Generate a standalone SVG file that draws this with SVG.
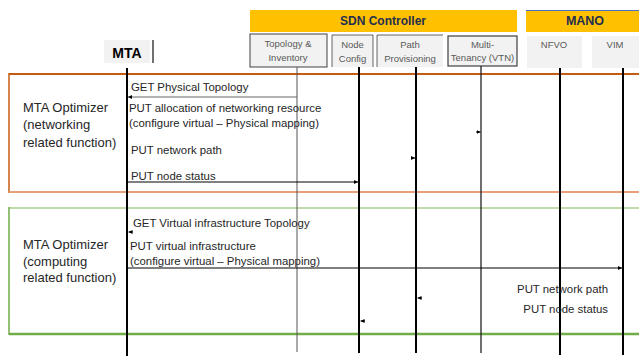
<svg xmlns="http://www.w3.org/2000/svg" width="639" height="356" viewBox="0 0 639 356">
<style>
.hdr{fill:#F2F2F2}
.ht{font-family:"Liberation Sans",Arial,sans-serif;font-size:9.5px;fill:#595959;text-anchor:middle}
.bar{fill:#FFC000}
.bt{font-family:"Liberation Sans",Arial,sans-serif;font-weight:bold;fill:#1F2F4F;text-anchor:middle}
.life{stroke:#000;stroke-width:2;fill:none}
.msg{font-family:"Liberation Sans",Arial,sans-serif;font-size:11.4px;fill:#262626}
.side{font-family:"Liberation Sans",Arial,sans-serif;font-size:13px;fill:#262626}
.arr{stroke:#000;stroke-width:1;fill:none;marker-end:url(#ah)}
</style>
<defs>
<marker id="ah" viewBox="0 0 6 6" refX="6" refY="3" markerWidth="4" markerHeight="4" markerUnits="userSpaceOnUse" orient="auto">
<path d="M0,0 L6,3 L0,6 Z" fill="#000"/>
</marker>
</defs>
<rect width="639" height="356" fill="#fff"/>

<g id="frame-networking">
<line x1="9" y1="74" x2="639" y2="74" stroke="#C55A11" stroke-width="2"/>
<line x1="9" y1="73" x2="9" y2="193" stroke="#C55A11" stroke-width="1.5"/>
<line x1="9" y1="192" x2="639" y2="192" stroke="#E8A07A" stroke-width="2"/>
<text class="side" x="23" y="112">MTA Optimizer</text>
<text class="side" x="23" y="129">(networking</text>
<text class="side" x="23" y="147">related function)</text>
</g>

<g id="frame-computing">
<line x1="9" y1="208" x2="639" y2="208" stroke="#A9D18E" stroke-width="1.5"/>
<line x1="9" y1="207" x2="9" y2="335" stroke="#70AD47" stroke-width="1.5"/>
<line x1="9" y1="334" x2="639" y2="334" stroke="#70AD47" stroke-width="2.5"/>
<text class="side" x="23" y="249">MTA Optimizer</text>
<text class="side" x="23" y="266">(computing</text>
<text class="side" x="23" y="282">related function)</text>
</g>

<g id="sdn-controller">
<rect class="bar" x="250" y="10" width="267" height="22"/>
<text class="bt" x="383" y="25" font-size="12">SDN Controller</text>
</g>

<g id="mano">
<rect class="bar" x="526" y="10" width="113" height="22"/>
<line x1="526" y1="10.5" x2="639" y2="10.5" stroke="#4472C4" stroke-width="1"/>
<text class="bt" x="585" y="25" font-size="12.5">MANO</text>
</g>

<g id="mta">
<rect x="104" y="40" width="46" height="23" fill="#F2F2F2"/>
<line x1="153" y1="40" x2="153" y2="63" stroke="#404040" stroke-width="1.5"/>
<text class="bt" x="127" y="58" font-size="14" style="fill:#000">MTA</text>
<line class="life" x1="127" y1="68" x2="127" y2="356"/>
</g>

<g id="topology-inventory">
<rect class="hdr" x="250" y="34" width="77" height="33" stroke="#404040" stroke-width="1"/>
<text class="ht" x="288" y="47">Topology  &amp;</text>
<text class="ht" x="288" y="61">Inventory</text>
<line x1="297" y1="67" x2="297" y2="352" stroke="#555" stroke-width="1"/>
</g>

<g id="node-config">
<rect class="hdr" x="332" y="35" width="41" height="32"/>
<path d="M332,67 V35 H373 V67" fill="none" stroke="#404040" stroke-width="0.8"/>
<text class="ht" x="352.5" y="48">Node</text>
<text class="ht" x="352.5" y="62">Config</text>
<line class="life" x1="359" y1="67" x2="359" y2="353"/>
</g>

<g id="path-provisioning">
<rect class="hdr" x="377" y="35" width="66" height="32"/>
<path d="M377,67 V35 H443" fill="none" stroke="#404040" stroke-width="0.8"/>
<text class="ht" x="410" y="48">Path</text>
<text class="ht" x="410" y="62">Provisioning</text>
<line class="life" x1="416" y1="67" x2="416" y2="353"/>
</g>

<g id="multi-tenancy">
<rect class="hdr" x="448" y="36" width="69" height="30" stroke="#404040" stroke-width="1.2"/>
<text class="ht" x="482.5" y="48" font-size="9">Multi-</text>
<text class="ht" x="482.5" y="61" font-size="9">Tenancy (VTN)</text>
<line x1="481" y1="66" x2="481" y2="353" stroke="#222" stroke-width="1.3"/>
</g>

<g id="nfvo">
<rect class="hdr" x="527" y="36" width="55" height="32"/>
<text class="ht" x="554" y="48">NFVO</text>
<line class="life" x1="560" y1="68" x2="560" y2="355"/>
</g>

<g id="vim">
<rect class="hdr" x="592" y="36" width="47" height="32"/>
<text class="ht" x="615" y="48">VIM</text>
<line class="life" x1="623" y1="68" x2="623" y2="355"/>
</g>

<g id="connectors">
<line x1="297" y1="97" x2="128" y2="97" stroke="#666" stroke-width="1" marker-end="url(#ah)"/>
<line class="arr" x1="476" y1="132" x2="480.5" y2="132"/>
<line class="arr" x1="411" y1="158" x2="415" y2="158"/>
<line class="arr" x1="127" y1="182" x2="358" y2="182"/>
<line class="arr" x1="133" y1="232" x2="128.5" y2="232"/>
<line class="arr" x1="127" y1="268" x2="622" y2="268"/>
<line class="arr" x1="422" y1="298" x2="417.5" y2="298"/>
<line class="arr" x1="365" y1="321" x2="360.5" y2="321"/>
</g>

<g id="labels">
<text class="msg" x="131" y="91">GET Physical Topology</text>
<text class="msg" x="129" y="112">PUT allocation of networking resource</text>
<text class="msg" x="129" y="127">(configure virtual – Physical mapping)</text>
<text class="msg" x="131" y="154">PUT network path</text>
<text class="msg" x="131" y="180">PUT node status</text>
<text class="msg" x="133" y="227">GET Virtual infrastructure Topology</text>
<text class="msg" x="130" y="250">PUT virtual infrastructure</text>
<text class="msg" x="130" y="265">(configure virtual – Physical mapping)</text>
<text class="msg" x="608" y="293" text-anchor="end">PUT network path</text>
<text class="msg" x="608" y="313" text-anchor="end">PUT node status</text>
</g>
</svg>
